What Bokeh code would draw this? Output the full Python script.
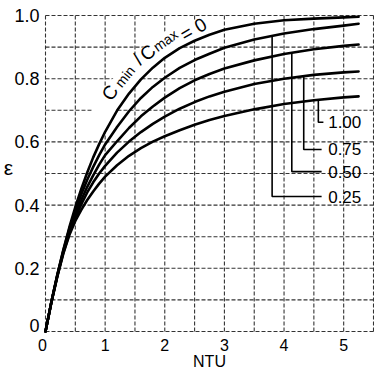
import numpy as np
from bokeh.plotting import figure
from bokeh.models import Range1d, ColumnDataSource
from bokeh.core.properties import value
from bokeh.embed import file_html
from bokeh.resources import INLINE

# ---- data ----
ntu = [0, 0.1, 0.2, 0.3, 0.4, 0.5, 0.6, 0.7, 0.8, 0.9, 1.0, 1.2, 1.4, 1.6, 1.8,
       2.0, 2.25, 2.5, 2.75, 3.0, 3.5, 4.0, 4.5, 5.0, 5.25]
eps_cr000 = [0, 0.095, 0.181, 0.259, 0.33, 0.394, 0.451, 0.503, 0.551, 0.593, 0.632,
             0.699, 0.753, 0.798, 0.835, 0.866, 0.897, 0.920, 0.939, 0.955, 0.974,
             0.985, 0.990, 0.994, 0.996]
eps_cr025 = [0, 0.095, 0.180, 0.257, 0.325, 0.383, 0.434, 0.480, 0.521, 0.558, 0.592,
             0.647, 0.697, 0.739, 0.774, 0.803, 0.834, 0.859, 0.879, 0.898, 0.924,
             0.943, 0.957, 0.968, 0.974]
eps_cr050 = [0, 0.094, 0.178, 0.253, 0.316, 0.370, 0.416, 0.458, 0.494, 0.528, 0.558,
             0.602, 0.644, 0.681, 0.712, 0.740, 0.770, 0.795, 0.815, 0.832, 0.858,
             0.878, 0.893, 0.904, 0.908]
eps_cr075 = [0, 0.094, 0.177, 0.250, 0.310, 0.360, 0.402, 0.440, 0.472, 0.500, 0.524,
             0.566, 0.601, 0.631, 0.657, 0.680, 0.705, 0.726, 0.744, 0.759, 0.783,
             0.800, 0.812, 0.820, 0.823]
eps_cr100 = [0, 0.093, 0.175, 0.247, 0.305, 0.350, 0.385, 0.416, 0.443, 0.468, 0.490,
             0.526, 0.556, 0.580, 0.601, 0.618, 0.637, 0.654, 0.669, 0.682, 0.703,
             0.720, 0.732, 0.741, 0.744]
series = [eps_cr000, eps_cr025, eps_cr050, eps_cr075, eps_cr100]

ratio_labels = ["1.00", "0.75", "0.50", "0.25"]
ratio_series = [eps_cr100, eps_cr075, eps_cr050, eps_cr025]
leader_x = [4.575, 4.33, 4.13, 3.80]
leader_y = [0.662, 0.576, 0.506, 0.427]
leader_end = [4.66, 4.63, 4.63, 4.63]
label_x = 4.74

x_ticks = [0, 1, 2, 3, 4, 5]
x_tick_text = ["0", "1", "2", "3", "4", "5"]
y_ticks = [0, 0.2, 0.4, 0.6, 0.8, 1.0]
y_tick_text = ["0", "0.2", "0.4", "0.6", "0.8", "1.0"]
x_grid = [0.5, 1.0, 1.5, 2.0, 2.5, 3.0, 3.5, 4.0, 4.5, 5.0]
y_grid = [0.1, 0.2, 0.3, 0.4, 0.5, 0.6, 0.7, 0.8, 0.9]
x_label, y_label = "NTU", "ε"

title_text = ["C", "min", "/", "C", "max", "= 0"]
title_x = [1.082, 1.331, 1.547, 1.714, 2.013, 2.48]
title_y = [0.756, 0.807, 0.861, 0.883, 0.921, 0.956]
title_angle = [56, 51, 46, 42, 36, 30]
title_size = ["19px", "14px", "19px", "19px", "14px", "19px"]

# ---- layout ----
FONT = "Liberation Sans"
W, H = 374, 370
X0, X1, Y0, Y1 = 0.0, 5.5, 0.0, 1.0          # plotted box
PL, PR, PT, PB = 45, 373, 15, 331            # box edges in pixels
sx = (PR - PL) / (X1 - X0)
sy = (PB - PT) / (Y1 - Y0)
xr = Range1d(X0 - PL / sx, X0 + (W - PL) / sx)
yr = Range1d(Y0 - (H - PB) / sy, Y0 + PB / sy)

p = figure(width=W, height=H, x_range=xr, y_range=yr,
           output_backend="svg", toolbar_location=None,
           x_axis_location=None, y_axis_location=None,
           min_border=0, background_fill_color="white", border_fill_color="white")
p.grid.visible = False
p.outline_line_color = None

GRID = dict(line_color="#333333", line_dash="4 2", line_width=1.1)
# grid lines
p.segment(x0=x_grid, y0=[Y0] * len(x_grid), x1=x_grid, y1=[Y1] * len(x_grid), **GRID)
p.segment(x0=[X0] * len(y_grid), y0=y_grid, x1=[X1] * len(y_grid), y1=y_grid, **GRID)

# white mask behind the curve label (gaps in the grid)
xs0 = np.array([n for n in ntu if 1.0 <= n <= 2.75])
ys0 = np.array([e for n, e in zip(ntu, eps_cr000) if 1.0 <= n <= 2.75])
px, py = xs0 * sx, ys0 * sy
dx, dy = np.gradient(px), np.gradient(py)
ln = np.hypot(dx, dy)
off = 22.0
ux = (px - dy / ln * off) / sx
uy = np.minimum((py + dx / ln * off) / sy, 0.985)
p.patch(list(xs0) + list(ux[::-1]), list(ys0) + list(uy[::-1]),
        fill_color="white", line_color=None)

# box frame (dashed like the grid)
p.segment(x0=[X0, X1, X0, X0], y0=[Y0, Y0, Y0, Y1],
          x1=[X0, X1, X1, X1], y1=[Y1, Y1, Y0, Y1], **GRID)

# curves
for s in series:
    p.line(ntu, s, line_color="black", line_width=2.6, line_join="round", line_cap="round")

# leader lines
lx, ly = [], []
for xv, yb, xe, s in zip(leader_x, leader_y, leader_end, ratio_series):
    ytop = float(np.interp(xv, ntu, s))
    lx.append([xv, xv, xe])
    ly.append([ytop, yb, yb])
p.multi_line(lx, ly, line_color="black", line_width=1.6)

p.text(x=[label_x] * len(ratio_labels), y=leader_y, text=ratio_labels,
       text_font=value(FONT), text_font_size="17px", text_align="left",
       text_baseline="middle", text_color="black")

tsrc = ColumnDataSource(dict(x=title_x, y=title_y, text=title_text,
                             angle=[np.deg2rad(a) for a in title_angle], size=title_size))
p.text(x="x", y="y", text="text", angle="angle", text_font_size="size", source=tsrc,
       text_font=value(FONT), text_align="center", text_baseline="middle",
       text_color="black")

# tick labels
ylab_x = X0 - 6 / sx
ylab_y = [t + (6 / sy if t == Y0 else 0) for t in y_ticks]
p.text(x=[ylab_x] * len(y_ticks), y=ylab_y, text=y_tick_text, text_font=value(FONT),
       text_font_size="18px", text_align="right", text_baseline="middle",
       text_color="black")
xlab_y = Y0 - 13 / sy
xlab_x = [t - (3 / sx if t == X0 else 0) for t in x_ticks]
p.text(x=xlab_x, y=[xlab_y] * len(x_ticks), text=x_tick_text, text_font=value(FONT),
       text_font_size="16px", text_align="center", text_baseline="middle",
       text_color="black")

# axis titles
p.text(x=[(X0 + X1) / 2], y=[Y0 - 29.5 / sy], text=[x_label], text_font=value(FONT),
       text_font_size="16px", text_align="center", text_baseline="middle",
       text_color="black")
p.text(x=[X0 - 37 / sx], y=[0.52], text=[y_label], text_font=value(FONT),
       text_font_size="21px", text_align="center", text_baseline="middle",
       text_color="black")

open("out.html", "w").write(file_html(p, INLINE))
